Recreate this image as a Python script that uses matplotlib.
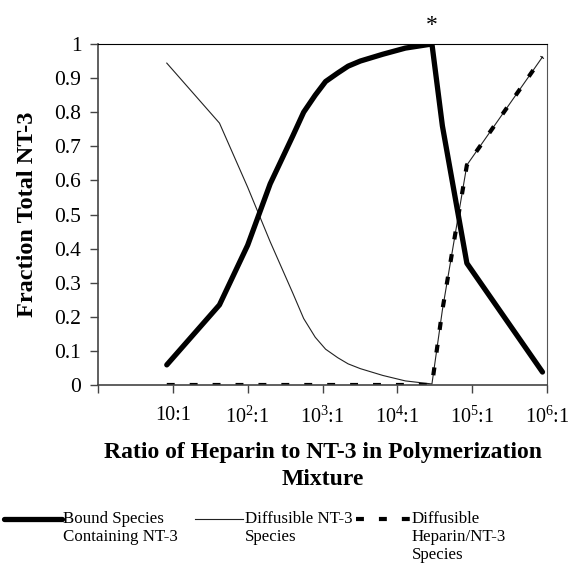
import numpy as np
import matplotlib.pyplot as plt
from matplotlib.lines import Line2D

# ratio of heparin to NT-3 (x) and fraction of total NT-3 for each species
ratio = [8.3, 42, 100, 200, 400, 560, 800, 1100, 1600, 2200, 3200, 6400, 12800, 29000,
         40000, 85000, 870000]
bound = [0.059, 0.235, 0.41, 0.59, 0.73, 0.80, 0.85, 0.89, 0.915, 0.935, 0.95, 0.97,
         0.988, 1.0, 0.76, 0.357, 0.038]
diffusible = [0.944, 0.768, 0.58, 0.42, 0.27, 0.195, 0.14, 0.105, 0.08, 0.062, 0.048,
              0.028, 0.012, 0.003, 0.22, 0.645, 0.962]
heparin_complex = [0, 0, 0, 0, 0, 0, 0, 0, 0, 0, 0, 0, 0, 0, 0.22, 0.645, 0.962]

series_labels = ['Bound Species\nContaining NT-3', 'Diffusible NT-3\nSpecies',
                 'Diffusible\nHeparin/NT-3\nSpecies']
xtick_vals = [1, 10, 1e2, 1e3, 1e4, 1e5, 1e6]
xtick_labels = ['', '10:1', '10$^2$:1', '10$^3$:1', '10$^4$:1', '10$^5$:1', '10$^6$:1']
ytick_vals = np.arange(0, 1.01, 0.1)

plt.rcParams['font.family'] = ['Liberation Serif', 'DejaVu Serif']
plt.rcParams['mathtext.fontset'] = 'custom'
plt.rcParams['mathtext.rm'] = 'Liberation Serif'

W, H = 572, 564
fig = plt.figure(figsize=(W / 100, H / 100), dpi=100)
ax = fig.add_axes([98 / W, 1 - 385 / H, 449 / W, 341 / H])

l1, = ax.plot(ratio, bound, color='black', lw=3.8, solid_joinstyle='round',
              solid_capstyle='round', zorder=3)
l2, = ax.plot(ratio, diffusible, color='#222222', lw=0.8, zorder=2)
l3, = ax.plot(ratio, heparin_complex, color='black', lw=3.0, dashes=(1.9, 3.6),
              dash_capstyle='butt', zorder=2.5)

ax.set_xscale('log')
ax.set_xlim(1, 1e6)
ax.set_ylim(0, 1)
ax.set_xticks(xtick_vals)
ax.set_xticklabels(xtick_labels)
ax.minorticks_off()
ax.set_yticks(ytick_vals)
ax.set_yticklabels(['%g' % round(v, 1) for v in ytick_vals])
ax.tick_params(axis='both', direction='out', length=6, width=1, color='#444444')
ax.tick_params(axis='y', labelsize=15.5, pad=6)
ax.tick_params(axis='x', labelsize=14.5, pad=9)

for s in ['left', 'bottom']:
    ax.spines[s].set_color('#444444')
    ax.spines[s].set_linewidth(1.2)
ax.spines['right'].set_color('#555555')
ax.spines['right'].set_linewidth(0.8)
ax.spines['top'].set_linestyle((0, (1, 1)))
ax.spines['top'].set_linewidth(0.8)

ax.set_ylabel('Fraction Total NT-3', fontsize=17.5, fontweight='bold')
ax.yaxis.set_label_coords(-0.134, 0.5)
ax.set_xlabel('Ratio of Heparin to NT-3 in Polymerization\nMixture', fontsize=17,
              fontweight='bold', labelpad=10, linespacing=1.4)

peak = int(np.argmax(bound))
ax.annotate('*', xy=(ratio[peak], bound[peak]), xytext=(0, 6), textcoords='offset points',
            ha='center', va='bottom', fontsize=17, annotation_clip=False)

# legend drawn Excel-style: sample line aligned with the first text line
handle_x0 = [4, 195, 356]
handle_x1 = [62, 243, 411]
text_x = [63, 245, 412]
handle_y = 1 - 519 / H
text_y = 1 - 511 / H
for line, label, a, b, tx in zip([l1, l2, l3], series_labels, handle_x0, handle_x1, text_x):
    h = Line2D([a / W, b / W], [handle_y, handle_y])
    h.update_from(line)
    h.set_transform(fig.transFigure)
    h.set_clip_on(False)
    fig.add_artist(h)
    fig.text(tx / W, text_y, label, fontsize=12.2, va='top', ha='left', linespacing=1.15)

fig.savefig('out.png', dpi=100)
